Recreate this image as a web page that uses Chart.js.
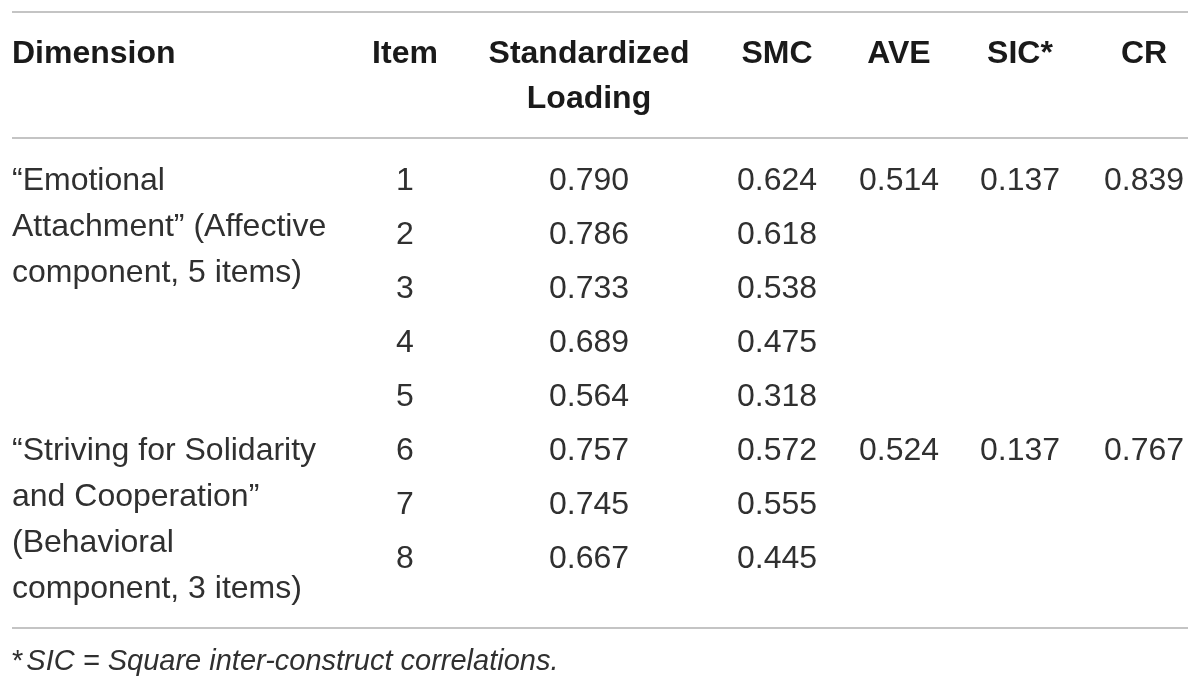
<!DOCTYPE html>
<html>
<head>
<meta charset="utf-8">
<script src="https://cdn.jsdelivr.net/npm/chart.js@4.4.1/dist/chart.umd.min.js"></script>
<style>
  html, body { margin: 0; padding: 0; background: #fff; }
  #wrap { width: 1200px; height: 691px; }
</style>
</head>
<body>
<div id="wrap"><canvas id="tableChart"></canvas></div>
<script>
// table content
const headers = ['Dimension', 'Item', 'Standardized\nLoading', 'SMC', 'AVE', 'SIC*', 'CR'];
const dimensions = [
    ['\u201cEmotional', 'Attachment\u201d (Affective', 'component, 5 items)'],
    ['\u201cStriving for Solidarity', 'and Cooperation\u201d', '(Behavioral', 'component, 3 items)'],
];
const dimensionFirstRow = [0, 5];
const items = [1, 2, 3, 4, 5, 6, 7, 8];
const loadings = [0.790, 0.786, 0.733, 0.689, 0.564, 0.757, 0.745, 0.667];
const smc = [0.624, 0.618, 0.538, 0.475, 0.318, 0.572, 0.555, 0.445];
const ave = [0.514, null, null, null, null, 0.524, null, null];
const sic = [0.137, null, null, null, null, 0.137, null, null];
const cr = [0.839, null, null, null, null, 0.767, null, null];
const footMark = '*';
const footText = 'SIC = Square inter-construct correlations.';

// layout (scale units = canvas px)
const layout = {
    left: 12, right: 1188,
    cols: [12, 405, 589, 777, 899, 1020, 1144],
    headBase: [63, 108],
    rowBase: 190, rowPitch: 54, dimPitch: 46,
    rules: [12, 138, 628],
    footBase: 670,
};

const bodyFont = '32px "Liberation Sans", Arial, sans-serif';
const headFont = 'bold 32px "Liberation Sans", Arial, sans-serif';
const footMarkFont = '29px "Liberation Sans", Arial, sans-serif';
const footFont = 'italic 29px "Liberation Sans", Arial, sans-serif';
const bodyColor = '#303030';
const headColor = '#1a1a1a';
const ruleColor = '#c4c4c4';

const rowY = i => layout.rowBase + i * layout.rowPitch;

function textSet(points, texts, font, color, align) {
    return {
        type: 'scatter',
        data: points,
        cellTexts: texts,
        cellFont: font,
        cellColor: color,
        cellAlign: align,
        pointRadius: 0,
        showLine: false,
    };
}

const datasets = [];

// horizontal rules
layout.rules.forEach(y => {
    datasets.push({
        type: 'line',
        data: [{x: layout.left, y: y}, {x: layout.right, y: y}],
        borderColor: ruleColor,
        borderWidth: 2,
        pointRadius: 0,
    });
});

// header
const headPts = [], headTxt = [];
headers.forEach((h, c) => {
    h.split('\n').forEach((line, k) => {
        headPts.push({x: layout.cols[c], y: layout.headBase[k]});
        headTxt.push(line);
    });
});
datasets.push(textSet(headPts.slice(0, 1), headTxt.slice(0, 1), headFont, headColor, 'left'));
datasets.push(textSet(headPts.slice(1), headTxt.slice(1), headFont, headColor, 'center'));

// dimension cells
dimensions.forEach((lines, d) => {
    const base = rowY(dimensionFirstRow[d]);
    datasets.push(textSet(
        lines.map((l, k) => ({x: layout.cols[0], y: base + k * layout.dimPitch})),
        lines, bodyFont, bodyColor, 'left'));
});

// value columns
const valueCols = [items, loadings, smc, ave, sic, cr];
valueCols.forEach((vals, c) => {
    const pts = [], txt = [];
    vals.forEach((v, i) => {
        if (v === null) return;
        pts.push({x: layout.cols[c + 1], y: rowY(i)});
        txt.push(c === 0 ? String(v) : v.toFixed(3));
    });
    datasets.push(textSet(pts, txt, bodyFont, bodyColor, 'center'));
});

// footnote
datasets.push(textSet([{x: layout.left, y: layout.footBase}], [footMark + '|' + footText], footFont, bodyColor, 'foot'));

const cellTextPlugin = {
    id: 'cellText',
    afterDatasetsDraw(chart) {
        const ctx = chart.ctx;
        chart.data.datasets.forEach((ds, di) => {
            if (!ds.cellTexts) return;
            const meta = chart.getDatasetMeta(di);
            ctx.save();
            ctx.fillStyle = ds.cellColor;
            ctx.textBaseline = 'alphabetic';
            meta.data.forEach((pt, j) => {
                const t = ds.cellTexts[j];
                if (ds.cellAlign === 'foot') {
                    const parts = t.split('|');
                    ctx.font = footMarkFont;
                    ctx.textAlign = 'left';
                    ctx.fillText(parts[0], pt.x, pt.y);
                    const w = ctx.measureText(parts[0]).width + 3;
                    ctx.font = ds.cellFont;
                    ctx.fillText(parts[1], pt.x + w, pt.y);
                } else {
                    ctx.font = ds.cellFont;
                    ctx.textAlign = ds.cellAlign;
                    ctx.fillText(t, pt.x, pt.y);
                }
            });
            ctx.restore();
        });
    }
};

new Chart(document.getElementById('tableChart'), {
    type: 'scatter',
    data: { datasets: datasets },
    options: {
        responsive: true,
        maintainAspectRatio: false,
        animation: false,
        events: [],
        layout: { padding: 0 },
        plugins: { legend: { display: false }, tooltip: { enabled: false } },
        scales: {
            x: { type: 'linear', min: 0, max: 1200, display: false },
            y: { type: 'linear', min: 0, max: 691, reverse: true, display: false },
        },
    },
    plugins: [cellTextPlugin],
});
</script>
</body>
</html>
